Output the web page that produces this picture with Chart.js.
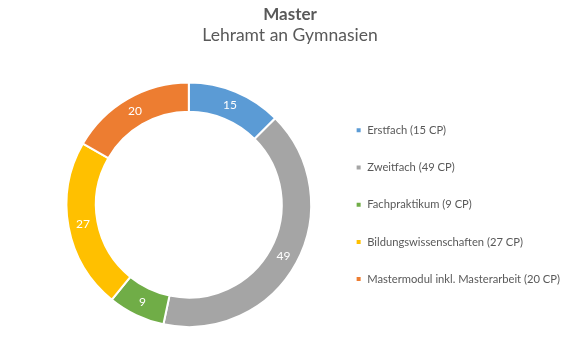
<!DOCTYPE html>
<html>
<head>
<meta charset="utf-8">
<script src="https://cdn.jsdelivr.net/npm/chart.js@4"></script>
<style>
  html, body { margin: 0; padding: 0; background: #fff; }
  #wrap { width: 580px; height: 350px; position: relative; }
</style>
</head>
<body>
<div id="wrap"><canvas id="chart"></canvas></div>
<script>
const categories = [
  'Erstfach (15 CP)',
  'Zweitfach (49 CP)',
  'Fachpraktikum (9 CP)',
  'Bildungswissenschaften (27 CP)',
  'Mastermodul inkl. Masterarbeit (20 CP)',
];
const creditPoints = [15, 49, 9, 27, 20];
const sliceColors = ['#5B9BD5', '#A5A5A5', '#70AD47', '#FFC000', '#ED7D31'];

const FONT = 'Lato, "Open Sans", sans-serif';
const TEXT = '#595959';

// values written in the middle of each ring segment
const valueLabels = {
  id: 'valueLabels',
  afterDatasetsDraw(chart) {
    const ctx = chart.ctx;
    const meta = chart.getDatasetMeta(0);
    ctx.save();
    ctx.fillStyle = '#fff';
    ctx.font = '12px ' + FONT;
    ctx.textAlign = 'center';
    ctx.textBaseline = 'middle';
    meta.data.forEach((arc, i) => {
      const p = arc.tooltipPosition();
      ctx.fillText(String(chart.data.datasets[0].data[i]), p.x, p.y);
    });
    ctx.restore();
  },
};

// empty box on the left so the ring sits right of centre while the title stays centred
// (display:false keeps it out of the legend's max-width share)
const leftGap = {
  id: 'leftGap',
  beforeInit(chart) {
    Chart.layouts.addBox(chart, {
      position: 'left',
      fullSize: false,
      weight: 0,
      options: { display: false },
      left: 0, top: 0, right: 0, bottom: 0, width: 0, height: 0,
      isHorizontal() { return false; },
      update(maxWidth, maxHeight) { this.width = 38; this.height = maxHeight; },
      draw() {},
    });
  },
};

new Chart(document.getElementById('chart'), {
  type: 'doughnut',
  data: {
    labels: categories,
    datasets: [{
      data: creditPoints,
      backgroundColor: sliceColors,
      borderColor: '#fff',
      borderWidth: 2,
    }],
  },
  options: {
    responsive: true,
    maintainAspectRatio: false,
    animation: false,
    cutout: '76%',
    layout: { padding: { top: 0, bottom: 22, left: 10, right: 10 } },
    plugins: {
      title: {
        display: true,
        text: 'Master',
        color: TEXT,
        font: { family: FONT, size: 17, weight: 'bold' },
        padding: { top: 4, bottom: 0 },
      },
      subtitle: {
        display: true,
        text: 'Lehramt an Gymnasien',
        color: TEXT,
        font: { family: FONT, size: 17.5 },
        padding: { top: 0, bottom: 36 },
      },
      legend: {
        position: 'right',
        fullSize: false,
        labels: {
          color: TEXT,
          font: { family: FONT, size: 11.2 },
          boxWidth: 6,
          boxHeight: 6,
          padding: 26,
        },
      },
      tooltip: { enabled: false },
    },
  },
  plugins: [valueLabels, leftGap],
});
</script>
</body>
</html>
